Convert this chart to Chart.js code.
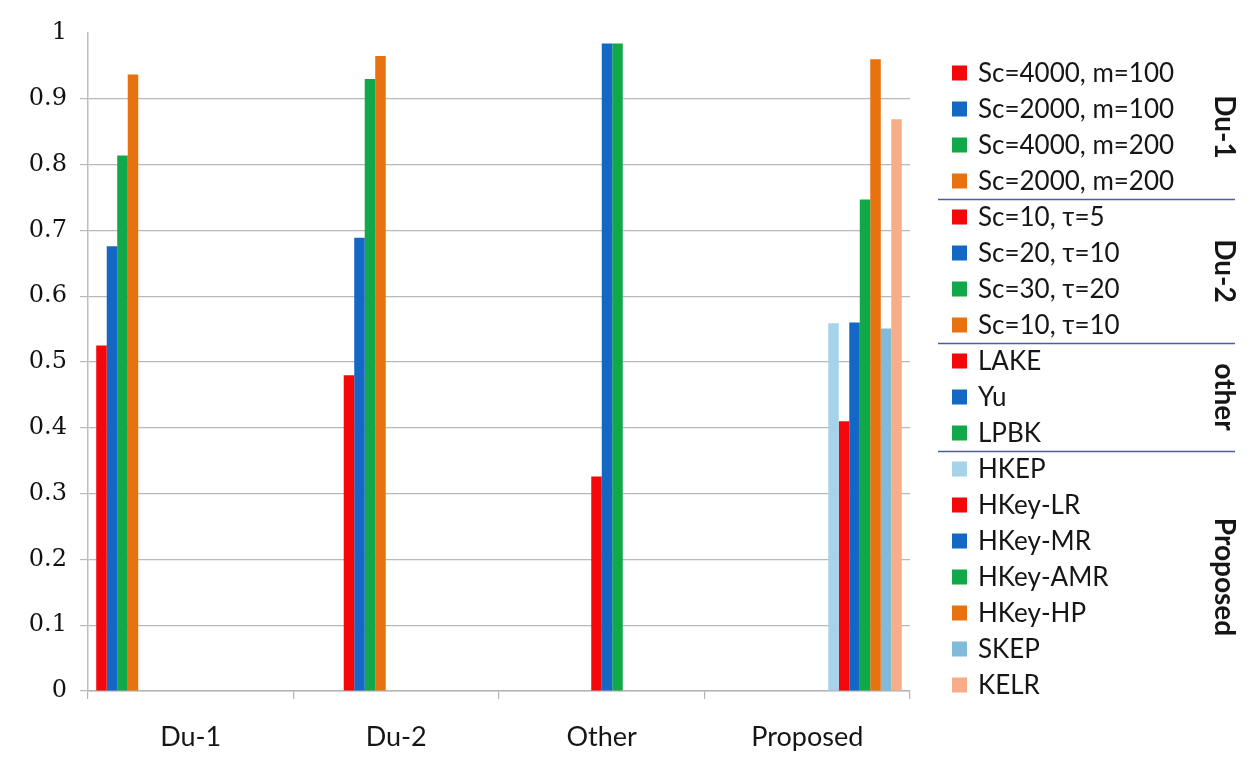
<!DOCTYPE html>
<html>
<head>
<meta charset="utf-8">
<script src="https://cdn.jsdelivr.net/npm/chart.js@4/dist/chart.umd.min.js"></script>
<style>
  html, body { margin: 0; padding: 0; background: #ffffff; }
  #wrap { width: 1255px; height: 758px; position: relative; }
</style>
</head>
<body>
<div id="wrap"><canvas id="chart" width="1255" height="758"></canvas></div>
<script>
// Categories on the x axis
const categories = ['Du-1', 'Du-2', 'Other', 'Proposed'];

// Du-1 settings
const du1Labels = ['Sc=4000, m=100', 'Sc=2000, m=100', 'Sc=4000, m=200', 'Sc=2000, m=200'];
const du1Values = [0.525, 0.676, 0.814, 0.937];

// Du-2 settings
const du2Labels = ['Sc=10, τ=5', 'Sc=20, τ=10', 'Sc=30, τ=20', 'Sc=10, τ=10'];
const du2Values = [0.480, 0.689, 0.930, 0.965];

// Other methods
const otherLabels = ['LAKE', 'Yu', 'LPBK'];
const otherValues = [0.326, 0.984, 0.984];

// Proposed methods
const proposedLabels = ['HKEP', 'HKey-LR', 'HKey-MR', 'HKey-AMR', 'HKey-HP', 'SKEP', 'KELR'];
const proposedValues = [0.559, 0.410, 0.560, 0.747, 0.960, 0.551, 0.869];

// Legend group titles
const groupTitles = ['Du-1', 'Du-2', 'other', 'Proposed'];

// Y axis tick labels
const yTickLabels = ['0', '0.1', '0.2', '0.3', '0.4', '0.5', '0.6', '0.7', '0.8', '0.9', '1'];

// Colours
const RED = '#f4070b', BLUE = '#1268c4', GREEN = '#11a84a', ORANGE = '#e8720f';
const groupColors = [
  [RED, BLUE, GREEN, ORANGE],
  [RED, BLUE, GREEN, ORANGE],
  [RED, BLUE, GREEN],
  ['#a6d2ea', RED, BLUE, GREEN, ORANGE, '#82bbd9', '#f6ad88']
];

const groups = [
  { labels: du1Labels, values: du1Values },
  { labels: du2Labels, values: du2Values },
  { labels: otherLabels, values: otherValues },
  { labels: proposedLabels, values: proposedValues }
];

// One dataset per series; each series only has a value in its own category
const datasets = [];
groups.forEach((g, gi) => {
  g.labels.forEach((lab, si) => {
    datasets.push({
      label: lab,
      data: categories.map((_, ci) => (ci === gi ? g.values[si] : null)),
      backgroundColor: groupColors[gi][si],
      borderWidth: 0,
      categoryPercentage: 0.92,
      barPercentage: 1.0
    });
  });
});

// Grouped legend at the right side, with separators and rotated group titles
const groupedLegend = {
  id: 'groupedLegend',
  afterDraw(chart) {
    const ctx = chart.ctx;
    const rowTop = 73, rowStep = 36;
    const swatchX = 952, swatchSize = 15, textX = 978;
    ctx.save();
    ctx.textBaseline = 'middle';
    ctx.textAlign = 'left';
    ctx.font = '26px Lato';
    chart.data.datasets.forEach((ds, k) => {
      const y = rowTop + rowStep * k;
      ctx.fillStyle = ds.backgroundColor;
      ctx.fillRect(swatchX, y - swatchSize / 2, swatchSize, swatchSize);
      ctx.fillStyle = '#161616';
      ctx.fillText(ds.label, textX, y + 1);
    });

    // separators and titles
    let start = 0;
    groups.forEach((g, gi) => {
      const n = g.labels.length;
      const end = start + n - 1;
      const yc = rowTop + rowStep * (start + end) / 2;
      ctx.save();
      ctx.translate(1224, yc);
      ctx.rotate(Math.PI / 2);
      ctx.textAlign = 'center';
      ctx.textBaseline = 'middle';
      ctx.font = 'bold 28px Lato';
      ctx.fillStyle = '#161616';
      ctx.fillText(groupTitles[gi], 0, 0);
      ctx.restore();
      if (gi < groups.length - 1) {
        const ys = Math.round(rowTop + rowStep * (end + 0.5)) + 0.5;
        ctx.beginPath();
        ctx.moveTo(938, ys);
        ctx.lineTo(1235, ys);
        ctx.strokeStyle = '#4d5c9c';
        ctx.lineWidth = 1.3;
        ctx.stroke();
      }
      start += n;
    });
    ctx.restore();
  }
};

new Chart(document.getElementById('chart'), {
  type: 'bar',
  data: { labels: categories, datasets },
  plugins: [groupedLegend],
  options: {
    responsive: false,
    animation: false,
    layout: { padding: { top: 33, right: 345, left: 0, bottom: 0 } },
    plugins: {
      legend: { display: false },
      tooltip: { enabled: false }
    },
    scales: {
      x: {
        offset: true,
        grid: {
          display: true,
          drawOnChartArea: false,
          drawTicks: true,
          tickLength: 8,
          color: '#b5b5b5',
          lineWidth: 1.2
        },
        border: { display: true, color: '#b5b5b5', width: 1.5 },
        ticks: {
          font: { family: 'Lato', size: 27 },
          color: '#161616',
          padding: 22,
          maxRotation: 0
        },
        afterFit(scale) { scale.height = 67; }
      },
      y: {
        min: 0,
        max: 1,
        ticks: {
          stepSize: 0.1,
          font: { family: 'DejaVu Serif', size: 24 },
          color: '#111111',
          padding: 13,
          callback: (v, i) => yTickLabels[i]
        },
        grid: {
          tickLength: 8,
          lineWidth: 1.2,
          color: (c) => (c.tick && c.tick.value >= 1 ? 'rgba(0,0,0,0)' : '#b9b9b9')
        },
        border: { display: true, color: '#bdbdbd', width: 1.5 },
        afterFit(scale) { scale.width = 88; }
      }
    }
  }
});
</script>
</body>
</html>
